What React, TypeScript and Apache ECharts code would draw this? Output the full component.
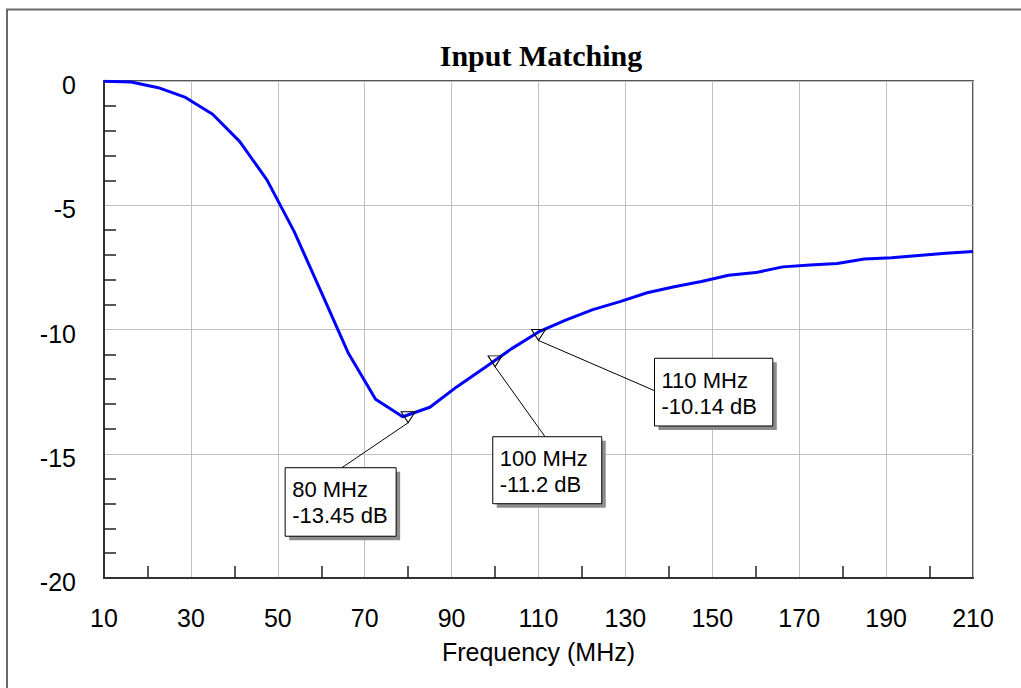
import React, { useEffect, useRef } from "react";
import * as echarts from "echarts";

// ---- data ----
const frequencyMHz = [
  10, 16.25, 22.5, 28.75, 35, 41.25, 47.5, 53.75, 60, 66.25, 72.5, 78.75, 85,
  91.25, 97.5, 103.75, 110, 116.25, 122.5, 128.75, 135, 141.25, 147.5, 153.75,
  160, 166.25, 172.5, 178.75, 185, 191.25, 197.5, 203.75, 210,
];
const inputMatchingDb = [
  -0.01, -0.04, -0.27, -0.66, -1.34, -2.44, -3.98, -6.05, -8.5, -10.96, -12.81,
  -13.51, -13.13, -12.3, -11.55, -10.78, -10.1, -9.62, -9.2, -8.88, -8.52,
  -8.28, -8.07, -7.82, -7.71, -7.48, -7.4, -7.34, -7.16, -7.11, -7.02, -6.93,
  -6.86,
];
const markerFreqs = [80, 100, 110];
const markerValues = [-13.45, -11.2, -10.14];
const markerTexts = ["80 MHz\n-13.45 dB", "100 MHz\n-11.2 dB", "110 MHz\n-10.14 dB"];

const xMin = 10;
const xMax = 210;
const xStep = 20;
const xMinorDivisions = 2;
const yMin = -20;
const yMax = 0;
const yStep = 5;
const yMinorDivisions = 5;

const titleText = "Input Matching";
const xAxisName = "Frequency (MHz)";

// ---- annotation layout (pixel offsets from marker point) ----
const boxLayout = [
  { dx: -123, dy: 52.5, w: 111, h: 68.5, lx0: 0, ly0: 7.5, lx1: -66.3, ly1: 52.5 },
  { dx: -2.3, dy: 77.4, w: 109, h: 67, lx0: 0, ly0: 7.5, lx1: 50, ly1: 77.4 },
  { dx: 116, dy: 25.3, w: 118.3, h: 67.7, lx0: 0, ly0: 7.5, lx1: 116, ly1: 57.7 },
];

const SANS = "'Liberation Sans', Arial, sans-serif";
const SERIF = "'Liberation Serif', 'Times New Roman', serif";

export default function App() {
  const ref = useRef<HTMLDivElement>(null);

  useEffect(() => {
    if (!ref.current) return;
    const chart = echarts.init(ref.current, null, { renderer: "svg" });

    const option: any = {
      animation: false,
      backgroundColor: "#ffffff",
      title: {
        text: titleText,
        left: 536,
        top: 35,
        textAlign: "center",
        textStyle: {
          fontFamily: SERIF,
          fontWeight: "bold",
          fontSize: 30,
          color: "#000",
        },
      },
      grid: {
        left: 104,
        top: 81,
        width: 869,
        height: 497,
        show: true,
        borderColor: "#555",
        borderWidth: 2,
        backgroundColor: "transparent",
      },
      xAxis: {
        type: "value",
        min: xMin,
        max: xMax,
        interval: xStep,
        name: xAxisName,
        nameLocation: "middle",
        nameGap: 61,
        nameTextStyle: { fontFamily: SANS, fontSize: 25, color: "#000" },
        axisLine: { show: true, onZero: false, lineStyle: { color: "#333", width: 2 } },
        axisTick: { show: false, inside: true },
        minorTick: {
          show: true,
          splitNumber: xMinorDivisions,
          length: 12,
          lineStyle: { color: "#222", width: 1.5 },
        },
        axisLabel: {
          margin: 27,
          fontFamily: SANS,
          fontSize: 25,
          color: "#000",
        },
        splitLine: { show: true, lineStyle: { color: "#c0c0c0", width: 1 } },
        minorSplitLine: { show: false },
      },
      yAxis: {
        type: "value",
        min: yMin,
        max: yMax,
        interval: yStep,
        axisLine: { show: true, onZero: false, lineStyle: { color: "#333", width: 2 } },
        axisTick: { show: false, inside: true },
        minorTick: {
          show: true,
          splitNumber: yMinorDivisions,
          length: 12,
          lineStyle: { color: "#222", width: 1.5 },
        },
        axisLabel: {
          margin: 28,
          fontFamily: SANS,
          fontSize: 25,
          color: "#000",
          verticalAlign: "top",
          lineHeight: 8,
        },
        splitLine: { show: true, lineStyle: { color: "#c0c0c0", width: 1 } },
        minorSplitLine: { show: false },
      },
      series: [
        {
          type: "line",
          data: frequencyMHz.map((f, i) => [f, inputMatchingDb[i]]),
          showSymbol: false,
          symbol: "none",
          lineStyle: { color: "#0000ff", width: 3 },
          z: 3,
          markPoint: {
            symbol: "path://M0,0L14,0L7,11Z",
            symbolSize: [14, 11],
            symbolOffset: [0, 2],
            itemStyle: { color: "transparent", borderColor: "#000", borderWidth: 1 },
            label: { show: false },
            silent: true,
            data: markerFreqs.map((f, i) => ({ coord: [f, markerValues[i]] })),
          },
        },
      ],
      graphic: [
        {
          type: "polyline",
          id: "frame",
          shape: { points: [[7, 700], [7, 9.5], [1040, 9.5]] },
          style: { fill: "none", stroke: "#6a6a6a", lineWidth: 2 },
          silent: true,
          z: -10,
        },
      ],
    };

    chart.setOption(option);

    const extra: any[] = [];
    markerFreqs.forEach((f, i) => {
      const p = chart.convertToPixel({ xAxisIndex: 0, yAxisIndex: 0 }, [f, markerValues[i]]) as number[];
      const L = boxLayout[i];
      const bx = p[0] + L.dx;
      const by = p[1] + L.dy;
      extra.push({
        type: "line",
        id: "lead" + i,
        shape: { x1: p[0] + L.lx0, y1: p[1] + L.ly0, x2: p[0] + L.lx1, y2: p[1] + L.ly1 },
        style: { stroke: "#000", lineWidth: 1 },
        z: 20,
        silent: true,
      });
      extra.push({
        type: "rect",
        id: "shadow" + i,
        shape: { x: bx + 4, y: by + 4, width: L.w, height: L.h },
        style: { fill: "#8c8c8c" },
        z: 21,
        silent: true,
      });
      extra.push({
        type: "rect",
        id: "box" + i,
        shape: { x: bx, y: by, width: L.w, height: L.h },
        style: { fill: "#fff", stroke: "#000", lineWidth: 1 },
        z: 22,
        silent: true,
      });
      extra.push({
        type: "text",
        id: "txt" + i,
        x: bx + 7,
        y: by + 9,
        style: {
          text: markerTexts[i],
          font: "22px " + SANS,
          fill: "#000",
          lineHeight: 26,
          textAlign: "left",
          textVerticalAlign: "top",
        },
        z: 23,
        silent: true,
      });
    });
    chart.setOption({ graphic: extra });

    return () => chart.dispose();
  }, []);

  return (
    <div
      ref={ref}
      style={{ position: "fixed", left: 0, top: 0, width: 1021, height: 688 }}
    />
  );
}
